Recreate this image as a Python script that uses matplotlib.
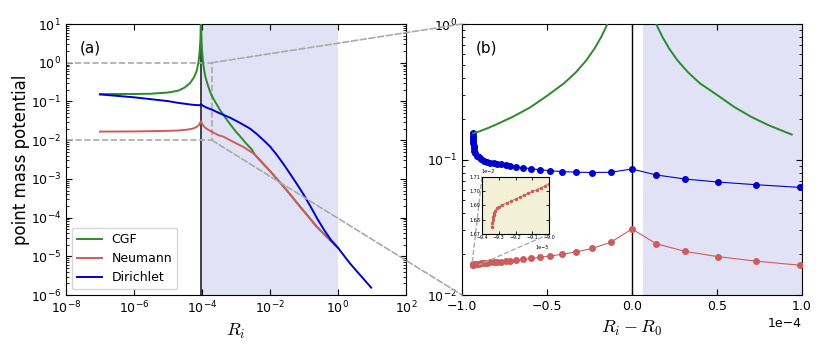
import numpy as np
import matplotlib.pyplot as plt
from matplotlib.patches import ConnectionPatch
from matplotlib.ticker import LogLocator, NullLocator
from mpl_toolkits.axes_grid1.inset_locator import mark_inset

plt.rcParams['mathtext.fontset'] = 'cm'

R0 = 9.35e-5

# ---- panel (a): potential vs R_i ----
cgf_R = [1e-7, 1e-6, 3e-6, 1e-5, 2e-5, 3e-5, 4.5e-5, 6e-5, 7e-5, 7.85e-5, 8.5e-5, 9.0e-5, 9.25e-5, 9.33e-5,
         9.4e-5, 9.5e-5, 9.7e-5, 1.0e-4, 1.08e-4, 1.23e-4, 1.44e-4, 1.64e-4, 1.9e-4, 2.5e-4, 3.4e-4, 4.5e-4,
         6.7e-4, 1.0e-3, 1.3e-3, 2.0e-3, 2.9e-3, 3.6e-3, 6e-3, 1e-2, 1.6e-2, 3e-2, 6e-2, 0.12, 0.23, 0.5, 1.0]
cgf_V = [0.155, 0.156, 0.158, 0.17, 0.19, 0.225, 0.3, 0.44, 0.62, 1.0, 1.8, 4.0, 12.0, 40.0,
         40.0, 9.5, 4.0, 2.2, 1.0, 0.47, 0.29, 0.205, 0.145, 0.095, 0.06, 0.042,
         0.026, 0.0165, 0.0128, 8.2e-3, 5.8e-3, 4.2e-3, 2.6e-3, 1.6e-3, 1.0e-3, 5.3e-4, 2.5e-4, 1.2e-4, 6.0e-5, 3.0e-5, 1.66e-5]

neu_R = [1e-7, 1e-6, 1e-5, 2e-5, 3.5e-5, 5e-5, 6.1e-5, 7e-5, 8.1e-5, 9.35e-5, 1.08e-4, 1.25e-4, 1.44e-4,
         1.66e-4, 1.92e-4, 3e-4, 4.3e-4, 6.7e-4, 1.3e-3, 1.6e-3, 3.2e-3, 3.6e-3, 6e-3, 1e-2, 1.6e-2, 3e-2,
         6e-2, 0.12, 0.23, 0.5, 1.0]
neu_V = [0.01665, 0.0168, 0.0174, 0.0178, 0.0186, 0.0196, 0.0208, 0.0221, 0.0245, 0.0307, 0.0239, 0.021, 0.0192,
         0.0178, 0.0166, 0.0135, 0.0123, 0.0100, 7.4e-3, 6.8e-3, 4.6e-3, 4.2e-3, 2.6e-3, 1.6e-3, 1.0e-3, 5.3e-4,
         2.5e-4, 1.2e-4, 6.0e-5, 3.0e-5, 1.66e-5]

dir_R = [1e-7, 1e-6, 3e-6, 1e-5, 2e-5, 3.5e-5, 5e-5, 7e-5, 8.5e-5, 9.2e-5, 9.35e-5, 1.08e-4, 1.25e-4, 1.44e-4,
         1.66e-4, 1.92e-4, 3.39e-4, 6.76e-4, 1.29e-3, 2.57e-3, 4.07e-3, 6.31e-3, 1e-2, 1.58e-2, 2.51e-2,
         3.98e-2, 6.31e-2, 0.1, 0.158, 0.251, 0.398, 0.631, 1.0, 2.24, 4.47, 9.5]
dir_V = [0.152, 0.128, 0.115, 0.102, 0.092, 0.086, 0.0825, 0.0805, 0.0800, 0.0798, 0.085, 0.077, 0.072, 0.068,
         0.065, 0.062, 0.049, 0.038, 0.0282, 0.020, 0.0145, 0.0102, 6.9e-3, 4.2e-3, 2.4e-3,
         1.32e-3, 7.2e-4, 3.8e-4, 1.9e-4, 9.1e-5, 4.7e-5, 2.6e-5, 1.66e-5, 6.6e-6, 3.3e-6, 1.55e-6]

# ---- panel (b): R_i - R_0, in units of 1e-4 ----
b_cgf_left_x = [-0.935, -0.9, -0.85, -0.8, -0.7, -0.6, -0.5, -0.4, -0.33, -0.27, -0.22, -0.18, -0.15, -0.13]
b_cgf_left_y = [0.156, 0.161, 0.170, 0.181, 0.207, 0.242, 0.295, 0.365, 0.44, 0.537, 0.66, 0.806, 0.967, 1.12]
b_cgf_right_x = [0.13, 0.15, 0.18, 0.22, 0.27, 0.33, 0.4, 0.5, 0.6, 0.7, 0.8, 0.9, 0.94]
b_cgf_right_y = [1.1, 0.953, 0.80, 0.655, 0.535, 0.44, 0.365, 0.30, 0.245, 0.207, 0.18, 0.16, 0.153]

b_x = [-0.934, -0.935, -0.935, -0.934, -0.933, -0.932, -0.931, -0.927, -0.922, -0.913, -0.902, -0.888,
       -0.873, -0.853, -0.833, -0.813, -0.794, -0.773, -0.743, -0.716, -0.680, -0.641, -0.592, -0.539,
       -0.480, -0.410, -0.327, -0.233, -0.125, 0.0, 0.143, 0.312, 0.506, 0.727, 0.986]
b_dir = [0.156, 0.149, 0.143, 0.137, 0.1316, 0.126, 0.121, 0.116, 0.111, 0.107, 0.1038, 0.1005,
         0.098, 0.096, 0.0947, 0.0940, 0.0930, 0.0922, 0.0910, 0.0895, 0.0880, 0.0871, 0.0855, 0.0840,
         0.0826, 0.0815, 0.0806, 0.0802, 0.0805, 0.0851, 0.0769, 0.0718, 0.0682, 0.0652, 0.0623]
b_neu = [0.01668, 0.01672, 0.01675, 0.0168, 0.01684, 0.01687, 0.0169, 0.01691, 0.01693, 0.01697, 0.01703, 0.0171,
         0.01718, 0.0173, 0.0174, 0.0175, 0.01758, 0.01765, 0.0178, 0.0179, 0.0181, 0.0183, 0.0186, 0.0190,
         0.0194, 0.0200, 0.0208, 0.0221, 0.0245, 0.0307, 0.0239, 0.0210, 0.0192, 0.0178, 0.0166]

# inset: x in 1e-5, y in 1e-2
ins_x = [-9.341, -9.339, -9.337, -9.334, -9.331, -9.326, -9.321, -9.312, -9.301, -9.281, -9.25, -9.225,
         -9.2, -9.175, -9.15, -9.125, -9.1, -9.075, -9.05, -9.025, -9.0]
ins_y = [1.6747, 1.6775, 1.6798, 1.6818, 1.6833, 1.6849, 1.6863, 1.6878, 1.6891, 1.6902, 1.6918, 1.6931,
         1.6944, 1.6957, 1.6971, 1.6984, 1.6997, 1.7010, 1.7023, 1.7036, 1.7049]

green = '#2b8a2b'
red = '#cd5c5c'
blue = '#0000cd'
shade = '#e2e2f7'
gray = '#aaaaaa'

fig = plt.figure(figsize=(8.3, 3.56), dpi=100)
ax1 = fig.add_axes([0.0795, 0.1713, 0.4096, 0.7612])
ax2 = fig.add_axes([0.5566, 0.1713, 0.4096, 0.7612])

# panel (a)
ax1.axvspan(1e-4, 1.0, color=shade, lw=0, zorder=0)
ax1.axvline(R0, color='#333333', lw=1.3, zorder=1)
ax1.plot(cgf_R, cgf_V, color=green, lw=1.4, label='CGF', zorder=3)
ax1.plot(neu_R, neu_V, color=red, lw=1.4, label='Neumann', zorder=4)
ax1.plot(dir_R, dir_V, color=blue, lw=1.4, label='Dirichlet', zorder=5)

box_x = R0 + 1e-4
ax1.plot([1e-8, box_x, box_x, 1e-8], [1.0, 1.0, 1e-2, 1e-2], ls='--', color=gray, lw=1.2, zorder=2)

ax1.set_xscale('log')
ax1.set_yscale('log')
ax1.set_xlim(1e-8, 1e2)
ax1.set_ylim(1e-6, 1e1)
ax1.set_xticks([1e-8, 1e-6, 1e-4, 1e-2, 1e0, 1e2])
ax1.xaxis.set_minor_locator(NullLocator())
ax1.yaxis.set_major_locator(LogLocator(base=10, numticks=20))
ax1.yaxis.set_minor_locator(LogLocator(base=10, subs=np.arange(2, 10), numticks=20))
ax1.tick_params(which='both', direction='in', top=True, right=True, labelsize=9)
ax1.tick_params(which='major', length=4.5)
ax1.tick_params(which='minor', length=2.2)
ax1.set_xlabel('$R_i$', fontsize=13)
ax1.set_ylabel('point mass potential', fontsize=12, labelpad=0.5)
ax1.text(0.04, 0.91, '(a)', transform=ax1.transAxes, fontsize=11, va='center')
ax1.legend(loc='lower left', fontsize=9, handlelength=2.0, borderaxespad=0.45)

# panel (b)
ax2.axvspan(0.065e-4, 1e-4, color=shade, lw=0, zorder=0)
ax2.axvline(0, color='k', lw=1.0, zorder=1)
ax2.plot(np.array(b_cgf_left_x) * 1e-4, b_cgf_left_y, color=green, lw=1.4, zorder=4)
ax2.plot(np.array(b_cgf_right_x) * 1e-4, b_cgf_right_y, color=green, lw=1.4, zorder=4)
ax2.plot(np.array(b_x) * 1e-4, b_dir, 'o-', color=blue, ms=4, lw=0.8, zorder=3)
ax2.plot(np.array(b_x) * 1e-4, b_neu, 'o-', color=red, ms=4, lw=0.8, zorder=3)
ax2.set_yscale('log')
ax2.set_xlim(-1e-4, 1e-4)
ax2.set_ylim(1e-2, 1e0)
ax2.set_xticks([-1e-4, -0.5e-4, 0, 0.5e-4, 1e-4])
ax2.ticklabel_format(axis='x', style='sci', scilimits=(0, 0))
ax2.tick_params(which='both', direction='in', top=True, right=True, labelsize=9)
ax2.tick_params(which='major', length=4.5)
ax2.tick_params(which='minor', length=2.2)
ax2.xaxis.get_offset_text().set_fontsize(9)
ax2.set_xlabel('$R_i - R_0$', fontsize=13)
ax2.text(0.04, 0.91, '(b)', transform=ax2.transAxes, fontsize=11, va='center')

# zoom connectors from (a) to (b)
for yA, yB in [(1.0, 1.0), (1e-2, 0.0)]:
    con = ConnectionPatch(xyA=(box_x, yA), coordsA=ax1.transData, xyB=(0, yB), coordsB=ax2.transAxes,
                          ls='--', color=gray, lw=1.2)
    fig.add_artist(con)

# inset
axins = fig.add_axes([0.5807, 0.3427, 0.0811, 0.161], facecolor='#f3f0d8')
axins.plot(np.array(ins_x) * 1e-5, np.array(ins_y) * 1e-2, 'o-', color=red, ms=1.5, lw=0.6)
axins.set_xlim(-9.4e-5, -9.0e-5)
axins.set_ylim(1.67e-2, 1.71e-2)
axins.set_xticks([-9.4e-5, -9.3e-5, -9.2e-5, -9.1e-5, -9.0e-5])
axins.set_yticks([1.67e-2, 1.68e-2, 1.69e-2, 1.70e-2, 1.71e-2])
axins.ticklabel_format(style='sci', scilimits=(0, 0), useOffset=False)
axins.tick_params(direction='in', top=True, right=True, labelsize=3.5, length=2.5, width=0.6, pad=1)
axins.xaxis.get_offset_text().set_fontsize(3.5)
axins.yaxis.get_offset_text().set_fontsize(3.5)
mark_inset(ax2, axins, loc1=2, loc2=4, fc='none', ec=gray, ls='--', lw=1.0)

fig.savefig('out.png', dpi=100)
